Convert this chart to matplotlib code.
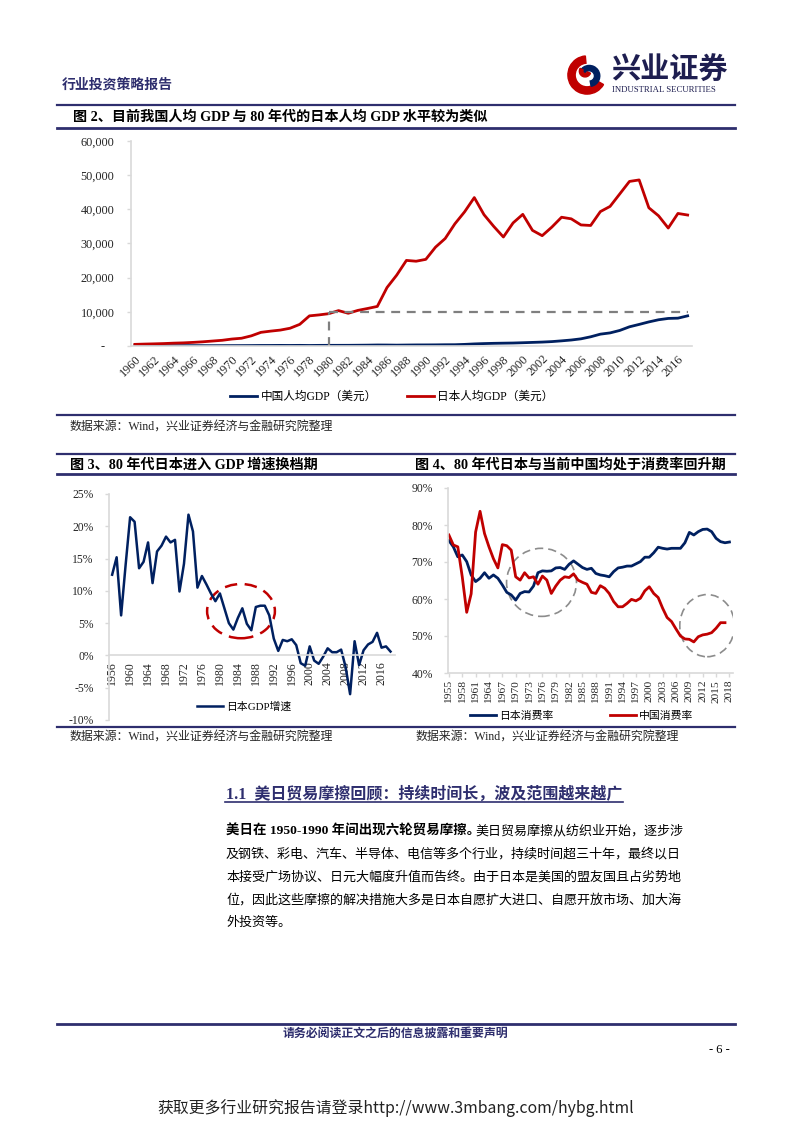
import numpy as np
import matplotlib
matplotlib.use("Agg")
from matplotlib import pyplot as plt
from matplotlib.lines import Line2D
from matplotlib.patches import Ellipse, Wedge

plt.rcParams['font.family'] = ['Liberation Serif', 'Noto Sans CJK SC']
plt.rcParams['axes.unicode_minus'] = False

# 图2 人均GDP（美元）
gdp_years = list(range(1960, 2018))
japan_gdp = [479, 563, 633, 717, 835, 919, 1058, 1229, 1451, 1669,
             2037, 2272, 2967, 3997, 4354, 4659, 5198, 6335, 8821, 9105,
             9463, 10361, 9578, 10425, 10984, 11585, 17112, 20745, 25052, 24813,
             25359, 28925, 31465, 35766, 39269, 43440, 38437, 35022, 31903, 36027,
             38532, 33846, 32289, 34808, 37689, 37218, 35434, 35275, 39339, 40855,
             44508, 48168, 48603, 40454, 38109, 34524, 38794, 38332]
china_gdp = [90, 76, 70, 74, 85, 98, 104, 97, 91, 100,
             113, 119, 132, 157, 160, 178, 165, 185, 156, 184,
             195, 197, 203, 225, 250, 294, 282, 251, 284, 311,
             318, 333, 366, 377, 473, 610, 709, 782, 829, 873,
             959, 1053, 1149, 1289, 1509, 1753, 2099, 2694, 3468, 3832,
             4550, 5618, 6317, 7051, 7679, 8067, 8148, 8827]

# 图3 日本GDP增速（%）
growth_years = list(range(1956, 2019))
japan_growth = [12.5, 15.2, 6.2, 14.0, 21.4, 20.7, 13.5, 14.5, 17.5, 11.2,
                16.1, 17.0, 18.4, 17.5, 17.9, 9.9, 14.2, 21.8, 19.2, 10.5,
                12.3, 11.0, 9.6, 8.4, 9.6, 7.3, 5.0, 4.0, 5.8, 7.3,
                4.9, 3.9, 7.5, 7.7, 7.7, 6.2, 2.6, 0.7, 2.4, 2.2,
                2.5, 1.6, -1.2, -1.6, 1.4, -0.8, -1.3, -0.2, 1.1, 0.5,
                0.5, 0.9, -1.8, -6.0, 2.2, -1.5, 0.8, 1.7, 2.1, 3.5,
                1.2, 1.4, 0.6]

# 图4 消费率（%）
japan_cons_years = list(range(1955, 2019))
japan_cons = [75.8, 74.1, 71.4, 71.9, 70.1, 66.5, 64.7, 65.6, 67.1, 65.6,
              66.5, 65.6, 63.8, 61.8, 61.1, 59.7, 61.5, 62.0, 61.9, 63.5,
              67.1, 67.6, 67.5, 67.6, 68.4, 68.5, 68.0, 69.4, 70.3, 69.4,
              68.5, 68.0, 68.3, 66.9, 66.5, 66.3, 66.0, 67.4, 68.4, 68.6,
              68.9, 68.9, 69.5, 70.1, 71.3, 71.3, 72.5, 74.0, 73.7, 73.5,
              73.7, 73.7, 73.7, 75.2, 78.0, 77.3, 78.2, 78.8, 78.9, 78.2,
              76.4, 75.5, 75.2, 75.4]
china_cons_years = list(range(1955, 2018))
china_cons = [77.3, 74.6, 74.1, 66.0, 56.4, 61.4, 78.1, 83.7, 77.7, 74.1,
              70.9, 68.4, 74.7, 74.4, 73.2, 66.0, 65.1, 67.1, 65.7, 66.0,
              64.0, 66.2, 65.1, 61.5, 63.5, 65.1, 66.0, 65.8, 66.8, 65.1,
              64.5, 64.0, 61.8, 61.5, 63.6, 62.9, 61.5, 59.3, 57.9, 57.9,
              58.8, 59.9, 59.5, 60.2, 62.2, 63.3, 61.5, 60.4, 57.5, 55.0,
              53.9, 51.9, 50.0, 49.2, 49.1, 48.4, 49.8, 50.3, 50.5, 50.9,
              52.1, 53.6, 53.6]

RED = "#C00000"
NAVY = "#002060"
GRID = "#D9D9D9"
INK = "#262626"
HEAD = "#2E2E6E"

W, H = 793, 1122
fig = plt.figure(figsize=(W / 100, H / 100), dpi=100)


def fx(x):
    return x / W


def fy(y):
    return 1 - y / H


def rect(l, t, r, b):
    return [l / W, 1 - b / H, (r - l) / W, (b - t) / H]


def hline(y, x0, x1, lw=1.5, color=HEAD):
    fig.add_artist(Line2D([fx(x0), fx(x1)], [fy(y), fy(y)], lw=lw, color=color))


def text(x, y, s, size, **kw):
    kw.setdefault("va", "center")
    kw.setdefault("color", INK)
    fig.text(fx(x), fy(y), s, fontsize=size, **kw)


def style_axes(ax):
    for side in ["top", "right"]:
        ax.spines[side].set_visible(False)
    for side in ["left", "bottom"]:
        ax.spines[side].set_color(GRID)
        ax.spines[side].set_linewidth(1.2)
    ax.tick_params(axis="y", colors=GRID, labelcolor=INK, length=3, width=1)
    ax.tick_params(axis="x", colors=GRID, labelcolor=INK, width=1)


# ---- header ----
text(62, 85, "行业投资策略报告", 10, weight="bold", color=HEAD)
logo = fig.add_axes(rect(566, 52, 608, 98))
logo.set_xlim(-1.1, 1.1)
logo.set_ylim(-1.1, 1.1)
logo.set_aspect("equal")
logo.axis("off")
logo.add_patch(Wedge((0, 0), 1.0, 95, 330, width=0.38, color=RED))
logo.add_patch(Wedge((0.12, -0.05), 0.55, -80, 150, width=0.28, color=NAVY))
logo.add_patch(Wedge((-0.1, 0.2), 0.3, 150, 340, width=0.18, color=RED))
text(611, 71, "兴业证券", 21, weight="bold", color="#1E1E50")
text(612, 90, "INDUSTRIAL SECURITIES", 6.3, color="#1E1E50")
hline(105, 57, 735, 1.6)

# ---- 图2 ----
text(73, 117, "图 2、目前我国人均 GDP 与 80 年代的日本人均 GDP 水平较为类似", 10.2, weight="bold", color="black")
hline(128, 57, 735, 2)

ax = fig.add_axes(rect(131, 141, 692, 346))
style_axes(ax)
ax.plot(gdp_years, china_gdp, color=NAVY, lw=2, label="中国人均GDP（美元）")
ax.plot(gdp_years, japan_gdp, color=RED, lw=2, label="日本人均GDP（美元）")
ax.plot([1980, 1980], [0, 10000], color="#7F7F7F", lw=1.6, dashes=(4, 3))
ax.plot([1980, 2017], [10000, 10000], color="#7F7F7F", lw=1.6, dashes=(4, 3))
ax.set_xlim(1959.6, 2017.45)
ax.set_ylim(0, 60000)
ax.set_yticks(range(0, 60001, 10000))
ax.set_yticklabels(["-   "] + [f"{v:,}" for v in range(10000, 60001, 10000)], fontsize=8.8)
ax.tick_params(axis="y", pad=9)
ax.set_xticks(gdp_years[::2])
ax.set_xticklabels([str(y) for y in gdp_years[::2]], fontsize=8.8, rotation=45,
                   ha="right", va="top", rotation_mode="anchor")
ax.tick_params(axis="x", length=0, pad=5)
ax.legend(loc="center", bbox_to_anchor=(fx(392), fy(397)), bbox_transform=fig.transFigure,
          ncol=2, frameon=False, fontsize=8.4, handlelength=2.3, handletextpad=0.3,
          columnspacing=2.6)

hline(415, 57, 735, 1.6)
text(70, 428, "数据来源：Wind，兴业证券经济与金融研究院整理", 8.6)
hline(454, 57, 735, 1.6)

# ---- 图3 ----
text(70, 465, "图 3、80 年代日本进入 GDP 增速换档期", 10.2, weight="bold", color="black")
text(415, 465, "图 4、80 年代日本与当前中国均处于消费率回升期", 10.2, weight="bold", color="black")
hline(474, 57, 735, 2)

ax3 = fig.add_axes(rect(109, 494, 395, 720))
style_axes(ax3)
ax3.plot(growth_years, japan_growth, color=NAVY, lw=1.8, label="日本GDP增速")
ax3.add_patch(Ellipse((1984.7, 6.86), 15.1, 8.4, fill=False, edgecolor=RED, lw=1.8,
                      linestyle=(0, (5, 3))))
ax3.set_xlim(1955.3, 2019.0)
ax3.set_ylim(-10, 25)
ax3.spines["bottom"].set_position(("data", 0))
ax3.set_yticks(range(-10, 26, 5))
ax3.set_yticklabels([f"{v}%" for v in range(-10, 26, 5)], fontsize=8.4)
ax3.tick_params(axis="y", pad=8)
ax3.set_xticks(growth_years[::4])
ax3.set_xticklabels([str(y) for y in growth_years[::4]], fontsize=8.6, rotation=90)
ax3.tick_params(axis="x", length=0, pad=4)
ax3.legend(loc="center", bbox_to_anchor=(fx(244), fy(707)), bbox_transform=fig.transFigure,
           frameon=False, fontsize=7.8, handlelength=2.4, handletextpad=0.3)

# ---- 图4 ----
ax4 = fig.add_axes(rect(448, 488, 733, 673))
style_axes(ax4)
ax4.plot(japan_cons_years, japan_cons, color=NAVY, lw=2, label="日本消费率")
ax4.plot(china_cons_years, china_cons, color=RED, lw=2, label="中国消费率")
ax4.add_patch(Ellipse((1975.8, 64.5), 15.7, 18.4, fill=False, edgecolor="#8C8C8C", lw=1.2,
                      linestyle=(0, (5, 3))))
ax4.add_patch(Ellipse((2013.0, 52.8), 12.3, 16.8, fill=False, edgecolor="#8C8C8C", lw=1.2,
                      linestyle=(0, (5, 3))))
ax4.set_xlim(1954.8, 2018.8)
ax4.set_ylim(40, 90)
ax4.set_yticks(range(40, 91, 10))
ax4.set_yticklabels([f"{v}%" for v in range(40, 91, 10)], fontsize=8.4)
ax4.tick_params(axis="y", pad=8)
ax4.set_xticks(japan_cons_years[::3])
ax4.set_xticklabels([str(y) for y in japan_cons_years[::3]], fontsize=8.2, rotation=90)
ax4.tick_params(axis="x", length=3, pad=2)
ax4.legend(loc="center", bbox_to_anchor=(fx(582), fy(716)), bbox_transform=fig.transFigure,
           ncol=2, frameon=False, fontsize=7.8, handlelength=2.4, handletextpad=0.3,
           columnspacing=5.2)

hline(727, 57, 735, 1.6)
text(70, 738, "数据来源：Wind，兴业证券经济与金融研究院整理", 8.6)
text(415, 738, "数据来源：Wind，兴业证券经济与金融研究院整理", 8.6)

# ---- 正文 ----
text(226, 795, "1.1  美日贸易摩擦回顾：持续时间长，波及范围越来越广", 11.5, weight="bold", color=HEAD)
hline(802, 225, 623, 1.2)
text(226, 831, "美日在 1950-1990 年间出现六轮贸易摩擦。", 9.7, weight="bold", color="black")
text(683, 831, "美日贸易摩擦从纺织业开始，逐步涉", 9.4, ha="right", color="black")
body = ["及钢铁、彩电、汽车、半导体、电信等多个行业，持续时间超三十年，最终以日",
        "本接受广场协议、日元大幅度升值而告终。由于日本是美国的盟友国且占劣势地",
        "位，因此这些摩擦的解决措施大多是日本自愿扩大进口、自愿开放市场、加大海",
        "外投资等。"]
for i, line in enumerate(body):
    text(226, 854 + i * 23, line, 9.4, color="black")

# ---- footer ----
hline(1024, 57, 735, 2)
text(395, 1034, "请务必阅读正文之后的信息披露和重要声明", 8.6, ha="center", weight="bold", color=HEAD)
text(730, 1050, "- 6 -", 9, ha="right", color="black")
fig.text(fx(396), fy(1108), "获取更多行业研究报告请登录http://www.3mbang.com/hybg.html",
         fontsize=11.4, ha="center", va="center", color="#222222",
         family=["Noto Sans CJK SC", "DejaVu Sans"])

fig.savefig("out.png", dpi=100)
